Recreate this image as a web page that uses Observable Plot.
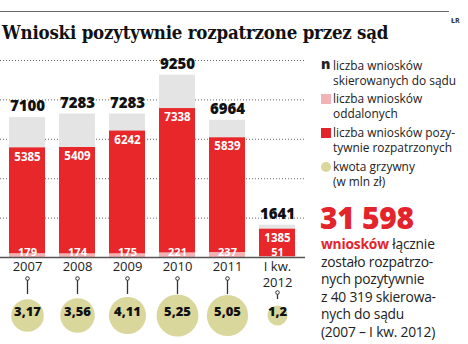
<!DOCTYPE html>
<html>
<head>
<meta charset="utf-8">
<script src="https://cdn.jsdelivr.net/npm/d3@7"></script>
<script src="https://cdn.jsdelivr.net/npm/@observablehq/plot@0.6"></script>
<style>
  html, body { margin: 0; padding: 0; background: #fff; }
  #wrap { position: relative; width: 468px; height: 344px; overflow: hidden; font-family: "Open Sans", sans-serif; color: #222; }
  #chart { position: absolute; left: 0; top: 0; }
  .topline { position: absolute; left: 0; top: 11px; width: 449px; height: 0; border-top: 1.5px solid #666; }
  .src { position: absolute; left: 451px; top: 16px; font: bold 7px "Open Sans", sans-serif; color: #333; }
  .title { position: absolute; left: 2px; top: 22px; font-family: "DejaVu Serif Condensed", "DejaVu Serif", serif; font-weight: bold; font-size: 18.5px; color: #111; white-space: nowrap; letter-spacing: -0.2px; }
  .leg { position: absolute; left: 321px; font-size: 11.9px; line-height: 15px; color: #222; white-space: nowrap; }
  .leg .t { position: absolute; left: 12px; top: 0; }
  .mk { position: absolute; left: 0; }
  .big { position: absolute; left: 320px; top: 205px; font-size: 30px; line-height: 26px; font-weight: 800; color: #e3242b; letter-spacing: -0.3px; white-space: nowrap; }
  .note { position: absolute; left: 321px; top: 235px; font-size: 13.8px; line-height: 17.6px; color: #222; white-space: nowrap; letter-spacing: -0.2px; }
  .note b { color: #e3242b; }
</style>
</head>
<body>
<div id="wrap">
  <div id="chart"></div>
  <div class="topline"></div>
  <div class="src">ŁR</div>
  <div class="title">Wnioski pozytywnie rozpatrzone przez sąd</div>
  <div class="leg" style="top:58px"><span class="mk" style="font-weight:800;font-size:14px;top:-2px;">n</span><span class="t">liczba wniosków<br>skierowanych do sądu</span></div>
  <div class="leg" style="top:91px"><span class="mk" style="top:3px;width:10px;height:10px;background:#f3b3b6;"></span><span class="t">liczba wniosków<br>oddalonych</span></div>
  <div class="leg" style="top:125px"><span class="mk" style="top:3px;width:10px;height:10px;background:#e3242b;"></span><span class="t">liczba wniosków pozy-<br>tywnie rozpatrzonych</span></div>
  <div class="leg" style="top:159px"><span class="mk" style="top:3px;width:10px;height:10px;border-radius:50%;background:#d9d79c;"></span><span class="t">kwota grzywny<br>(w mln zł)</span></div>
  <div class="big">31 598</div>
  <div class="note"><b>wniosków</b> łącznie<br>zostało rozpatrzo-<br>nych pozytywnie<br>z 40 319 skierowa-<br>nych do sądu<br>(2007 – I kw. 2012)</div>
</div>
<script>
const periods = ["2007", "2008", "2009", "2010", "2011", "I kw.\n2012"];
const submitted = [7100, 7283, 7283, 9250, 6964, 1641];
const positive = [5385, 5409, 6242, 7338, 5839, 1385];
const dismissed = [179, 174, 175, 221, 237, 51];
const fines = [3.17, 3.56, 4.11, 5.25, 5.05, 1.2];
const gridTicks = [2000, 4000, 6000, 8000, 10000];

const data = periods.map((p, i) => ({
  period: p,
  submitted: submitted[i],
  positive: positive[i],
  dismissed: dismissed[i],
  fine: fines[i],
  fineLabel: String(fines[i]).replace(".", ",")
}));
const full = data.slice(0, 5);
const last = data.slice(5);

const chart = Plot.plot({
  width: 468,
  height: 344,
  marginLeft: 0,
  marginRight: 163,
  marginTop: 60,
  marginBottom: 87,
  style: { fontFamily: "Open Sans, sans-serif", background: "transparent", overflow: "visible" },
  x: { domain: periods, paddingInner: 0.2745, paddingOuter: 0.137, axis: null },
  y: { domain: [0, 10000], axis: null },
  r: { domain: [0, 5.25], range: [0, 21] },
  marks: [
    Plot.ruleY(gridTicks, { stroke: "#666", strokeWidth: 1, strokeDasharray: "1,2" }),
    Plot.barY(data, { x: "period", y1: 0, y2: "submitted", fill: "#e4e4e4" }),
    Plot.barY(data, { x: "period", y1: "dismissed", y2: d => d.dismissed + d.positive, fill: "#e8272b" }),
    Plot.barY(data, { x: "period", y1: 0, y2: "dismissed", fill: "#f3b3b6" }),
    Plot.ruleY([0], { stroke: "#555", strokeWidth: 1.5 }),
    Plot.text(data, { x: "period", y: "submitted", text: d => String(d.submitted), dy: -11, fontSize: 15, fontWeight: 800, fill: "#111" }),
    Plot.text(data, { x: "period", y: d => d.dismissed + d.positive, text: d => String(d.positive), dy: 9, fontSize: 11.5, fontWeight: 700, fill: "#fff" }),
    Plot.text(data, { x: "period", y: 0, text: d => String(d.dismissed), dy: -5, fontSize: 11, fontWeight: 700, fill: "#fff" }),
    Plot.text(data, { x: "period", text: "period", frameAnchor: "bottom", lineAnchor: "top", dy: 3, fontSize: 13, fill: "#222", lineHeight: 1.18 }),
    Plot.ruleX(full, { x: "period", insetTop: 181, dy: 37, stroke: "#333", strokeWidth: 1.3 }),
    Plot.ruleX(last, { x: "period", insetTop: 189, dy: 42, stroke: "#333", strokeWidth: 1.3 }),
    Plot.dot(full, { x: "period", frameAnchor: "bottom", dy: 21, r: 1.8, fill: "#fff", stroke: "#333", strokeWidth: 1 }),
    Plot.dot(last, { x: "period", frameAnchor: "bottom", dy: 35, r: 1.8, fill: "#fff", stroke: "#333", strokeWidth: 1 }),
    Plot.dot(data, { x: "period", r: "fine", frameAnchor: "bottom", dy: 58, fill: "#d9d79c", stroke: "none" }),
    Plot.text(data, { x: "period", text: "fineLabel", frameAnchor: "bottom", dy: 58, fontSize: 13, fontWeight: 800, fill: "#111" })
  ]
});
document.getElementById("chart").appendChild(chart);
</script>
</body>
</html>
